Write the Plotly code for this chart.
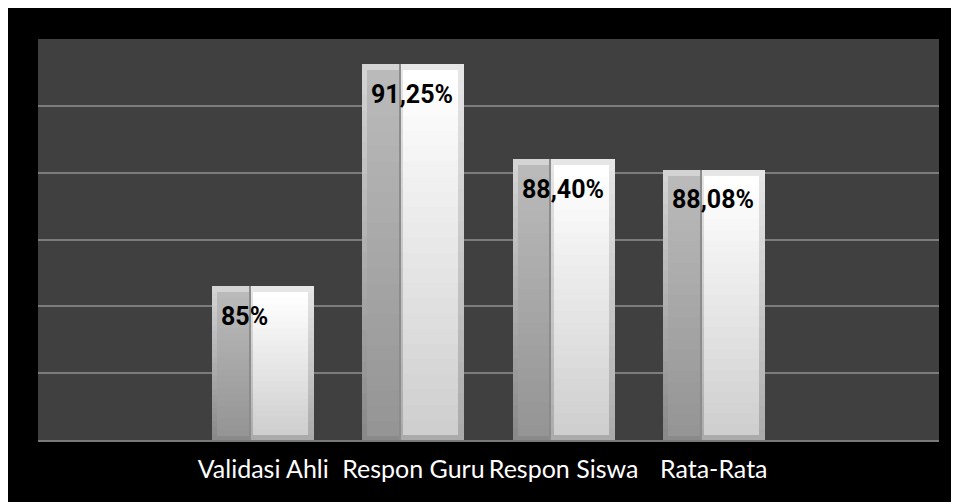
import plotly.graph_objects as go

# ---- data ----
categories = ["Validasi Ahli", "Respon Guru", "Respon Siswa", "Rata-Rata"]
values = [84.6, 91.25, 88.40, 88.08]
value_labels = ["85%", "91,25%", "88,40%", "88,08%"]
positions = [1, 2, 3, 4]
y_range = [80, 92]
x_range = [-0.5, 5.5]

# ---- layout geometry (pixels) ----
W, H = 959, 502
ML, MT = 30, 31
PW, PH = 901, 401
MR = W - ML - PW
MB = H - MT - PH
UX = (x_range[1] - x_range[0]) / PW   # x units per pixel
UY = (y_range[1] - y_range[0]) / PH   # y units per pixel

N = 24


def hex2rgb(h):
    h = h.lstrip("#")
    return tuple(int(h[i:i + 2], 16) for i in (0, 2, 4))


def mix(c1, c2, t):
    a, b = hex2rgb(c1), hex2rgb(c2)
    return "rgb(%d,%d,%d)" % tuple(round(a[i] + (b[i] - a[i]) * t) for i in range(3))


fig = go.Figure()


def add_face(px0, px1, top_in, bot_in, c_top, c_bot):
    lo = [y_range[0] + bot_in * UY for _ in values]
    hi = [v - top_in * UY for v in values]
    for k in range(N):
        frac = (N - k) / N
        t = k / (N - 1)
        fig.add_trace(go.Bar(
            x=positions,
            y=[(h - l) * frac for h, l in zip(hi, lo)],
            base=lo,
            offset=px0 * UX,
            width=(px1 - px0) * UX,
            marker=dict(color=mix(c_top, c_bot, t), line=dict(width=0)),
            hoverinfo="skip",
            showlegend=False,
        ))


# left (darker) face
add_face(-51, -13, 0, 0, "#d4d4d4", "#8a8a8a")
add_face(-46, -13.5, 6, 4, "#bababa", "#959595")
# right (light) face
add_face(-13, 51, 0, 0, "#e6e6e6", "#ababab")
add_face(-10, 45, 6, 5, "#ffffff", "#cfcfcf")
# divider
fig.add_trace(go.Bar(
    x=positions, y=[v - y_range[0] for v in values], base=y_range[0],
    offset=-13.6 * UX, width=1.2 * UX,
    marker=dict(color="#8c8c8c", line=dict(width=0)),
    hoverinfo="skip", showlegend=False,
))

for p, v, lab in zip(positions, values, value_labels):
    fig.add_annotation(
        x=p, y=v, text="<b>%s</b>" % lab, showarrow=False,
        xanchor="left", yanchor="middle", xshift=-44, yshift=-30,
        font=dict(family="Roboto", size=25, color="black"),
    )

fig.update_layout(
    width=W, height=H,
    margin=dict(l=ML, r=MR, t=MT, b=MB, pad=0),
    paper_bgcolor="black", plot_bgcolor="#404040",
    barmode="overlay", bargap=0,
    showlegend=False,
    xaxis=dict(range=x_range, tickvals=positions, ticktext=categories,
               showgrid=False, zeroline=False, showline=True,
               linecolor="#7a7a7a", linewidth=2, ticks="",
               tickfont=dict(family="Lato", size=25, color="white"),
               ticklabelstandoff=6, fixedrange=True),
    yaxis=dict(range=y_range, dtick=2, showgrid=True, gridcolor="#7c7c7c",
               gridwidth=2, zeroline=False, showticklabels=False,
               ticks="", fixedrange=True),
)

fig.write_html("out.html")
